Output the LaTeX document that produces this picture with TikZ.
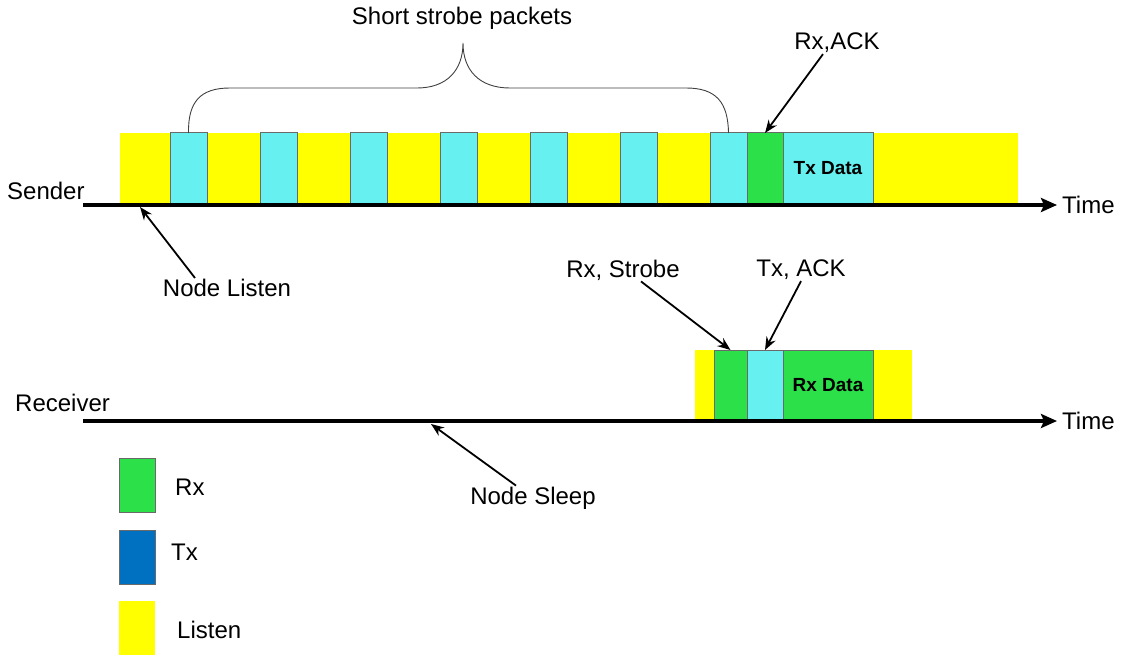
\documentclass[tikz,border=0pt]{standalone}
\usepackage{fontspec}
\setmainfont{Liberation Sans}
\usetikzlibrary{arrows.meta}
\definecolor{lsn}{HTML}{FFFF00}
\definecolor{txc}{HTML}{66F0F0}
\definecolor{rxc}{HTML}{2CE04A}
\definecolor{txl}{HTML}{0070C0}
\definecolor{edge}{HTML}{6A6A6A}
\tikzset{
  lbl/.style={font=\fontsize{24}{28}\selectfont, inner sep=1pt},
  datalbl/.style={font=\fontsize{19}{23}\selectfont\bfseries},
  slot/.style={anchor=north west, inner sep=0pt, outer sep=0pt},
  listenbox/.style={slot, fill=lsn},
  txbox/.style={slot, fill=txc, draw=edge, line width=1pt},
  rxbox/.style={slot, fill=rxc, draw=edge, line width=1pt},
  axis/.style={line width=3.5pt, -{Stealth[length=16pt,width=14pt,inset=3pt]}},
  ptr/.style={line width=1.8pt, -{Stealth[length=13pt,width=10pt]}},
  brace/.style={line width=0.9pt, draw=black!75}
}
\begin{document}
\begin{tikzpicture}[x=1pt,y=-1pt]
\useasboundingbox (0,0) rectangle (1123,655);

% ---- sender ----
\node[listenbox, minimum width=898pt, minimum height=71pt] (slisten) at (120,133) {};
\foreach \k in {0,...,6}{
  \node[txbox, minimum width=37pt, minimum height=71pt] (s\k) at ({170+90*\k},133) {};
}
\node[rxbox, minimum width=36pt, minimum height=71pt] (sack) at (747,133) {};
\node[txbox, minimum width=90pt, minimum height=71pt] (sdata) at (783,133) {};
\node[datalbl] at (sdata.center) {Tx Data};

\coordinate (saxs) at (83,205);
\coordinate (saxe) at (1057,205);
\draw[axis] (saxs) -- (saxe);
\node[lbl, anchor=west] (sender) at (6,191) {Sender};
\node[lbl, anchor=west] (stime) at (1061,205) {Time};

% brace over the strobe packets
\draw[brace] (s0.north) .. controls (188,102) and (200,88) .. (230,88)
  -- (417,88) .. controls (447,88) and (463,70) .. (463,43)
  .. controls (463,70) and (479,88) .. (510,88)
  -- (686,88) .. controls (716,88) and (728,102) .. (s6.north);
\node[lbl] (strobes) at (462,18) {Short strobe packets};

\node[lbl] (rxack) at (837,43) {Rx,ACK};
\draw[ptr] ([xshift=-14pt]rxack.south) -- (sack.north);

\coordinate (listenpt) at (140,207);
\node[lbl] (nlisten) at (227,288) {Node Listen};
\draw[ptr] ([xshift=-32pt]nlisten.north) -- (listenpt);

% ---- receiver ----
\node[listenbox, minimum width=217pt, minimum height=70pt] (rlisten) at (695,350) {};
\node[rxbox, minimum width=33pt, minimum height=70pt] (rstrobe) at (714,350) {};
\node[txbox, minimum width=36pt, minimum height=70pt] (rack) at (747,350) {};
\node[rxbox, minimum width=90pt, minimum height=70pt] (rdata) at (783,350) {};
\node[datalbl] at (rdata.center) {Rx Data};

\coordinate (raxs) at (83,421);
\coordinate (raxe) at (1057,421);
\draw[axis] (raxs) -- (raxe);
\node[lbl, anchor=west] (receiver) at (14,403) {Receiver};
\node[lbl, anchor=west] (rtime) at (1061,421) {Time};

\node[lbl] (rxstrobe) at (623,270) {Rx, Strobe};
\draw[ptr] ([xshift=18pt]rxstrobe.south) -- (rstrobe.north);
\node[lbl] (txack) at (801,270) {Tx, ACK};
\draw[ptr] (txack.south) -- (rack.north);

\coordinate (sleeppt) at (431,424);
\node[lbl] (nsleep) at (533,498) {Node Sleep};
\draw[ptr] ([xshift=-17pt]nsleep.north) -- (sleeppt);

% ---- legend ----
\node[rxbox, minimum width=36pt, minimum height=54pt] (legrx) at (119,458) {};
\node[lbl, anchor=west] (legrxt) at (174,487) {Rx};
\node[slot, fill=txl, draw=edge, line width=1pt, minimum width=36pt, minimum height=54pt] (legtx) at (119,530) {};
\node[lbl, anchor=west] (legtxt) at (170,552) {Tx};
\node[listenbox, minimum width=36pt, minimum height=54pt] (legls) at (119,601) {};
\node[lbl, anchor=west] (leglst) at (176,630) {Listen};
\end{tikzpicture}
\end{document}
